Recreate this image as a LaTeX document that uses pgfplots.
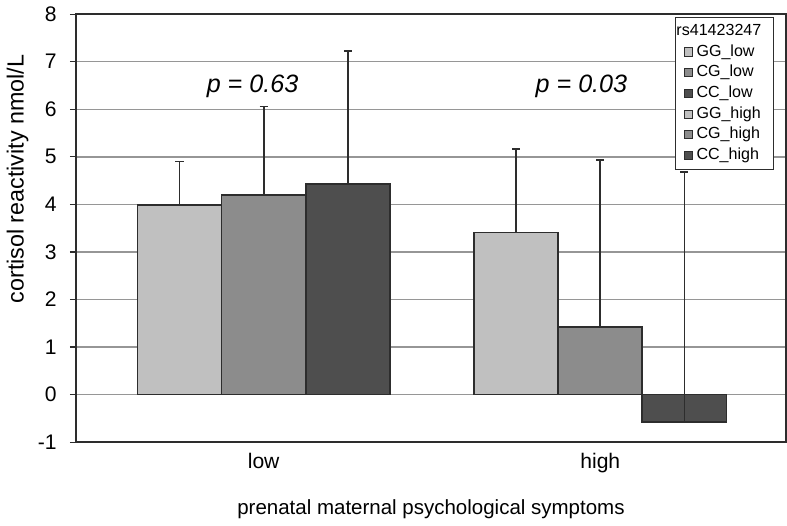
\documentclass[border=0pt]{standalone}
\usepackage{fontspec}
\setmainfont{Liberation Sans}
\usepackage{pgfplots}
\pgfplotsset{compat=1.18}

\definecolor{ggcol}{RGB}{192,192,192}
\definecolor{cgcol}{RGB}{140,140,140}
\definecolor{cccol}{RGB}{78,78,78}
\definecolor{edgecol}{RGB}{45,45,45}
\definecolor{gridcol}{RGB}{150,150,150}

\begin{document}
\begin{tikzpicture}
\begin{axis}[
  scale only axis,
  width=353.5pt, height=213pt,
  xmin=-0.558, xmax=1.552,
  ymin=-1, ymax=8,
  ytick={-1,0,...,8},
  xtick={0,1},
  xticklabels={low,high},
  ytick pos=left,
  tick align=outside,
  major tick length=3pt,
  tick style={color=edgecol, line width=0.6pt},
  xtick style={draw=none},
  ymajorgrids,
  grid style={color=gridcol, line width=0.7pt},
  axis line style={color=edgecol, line width=0.9pt},
  /pgf/number format/assume math mode=true,
  tick label style={font=\fontsize{10.5pt}{12pt}\selectfont},
  yticklabel style={xshift=-3pt},
  xticklabel style={yshift=1pt},
  ylabel={cortisol reactivity nmol/L},
  xlabel={prenatal maternal psychological symptoms},
  xlabel style={font=\fontsize{10.2pt}{12pt}\selectfont,
    at={([yshift=-33.5pt]axis description cs:0.5,0)}, anchor=center},
  ylabel style={font=\fontsize{11.6pt}{13pt}\selectfont,
    at={([xshift=-29pt]axis description cs:0,0.615)}, anchor=center},
  ybar, bar width=0.25, bar shift=0pt,
  error bars/y dir=plus,
  error bars/y explicit,
  error bars/error bar style={color=edgecol, line width=0.85pt},
  error bars/error mark options={rotate=90, mark size=2pt, line width=0.9pt, color=edgecol},
  legend style={
    at={(rel axis cs:0.983,0.993)}, anchor=north east,
    font=\fontsize{8pt}{9pt}\selectfont,
    draw=edgecol, line width=0.6pt, fill=white,
    inner xsep=4.5pt, inner ysep=1.5pt,
    nodes={inner xsep=1.75pt, inner ysep=1.75pt},
    row sep=-0.5pt,
    legend cell align=left,
  },
  legend image code/.code={
    \draw[#1, line width=0.4pt] (0pt,-2pt) rectangle (4pt,2pt);
  },
]
\addlegendimage{empty legend}
\addlegendentry{\makebox[0pt][l]{\hspace{-10pt}rs41423247}}

\addplot[fill=ggcol, draw=edgecol, line width=0.9pt]
  coordinates {(-0.25,3.98) +- (0,0.92)};
\addlegendentry{GG\_low}
\addplot[fill=cgcol, draw=edgecol, line width=0.9pt]
  coordinates {(0,4.20) +- (0,1.86)};
\addlegendentry{CG\_low}
\addplot[fill=cccol, draw=edgecol, line width=0.9pt]
  coordinates {(0.25,4.43) +- (0,2.79)};
\addlegendentry{CC\_low}
\addplot[fill=ggcol, draw=edgecol, line width=0.9pt]
  coordinates {(0.75,3.41) +- (0,1.76)};
\addlegendentry{GG\_high}
\addplot[fill=cgcol, draw=edgecol, line width=0.9pt]
  coordinates {(1,1.42) +- (0,3.52)};
\addlegendentry{CG\_high}
\addplot[fill=cccol, draw=edgecol, line width=0.9pt]
  coordinates {(1.25,-0.57) +- (0,5.25)};
\addlegendentry{CC\_high}

\node[font=\fontsize{12.5pt}{14pt}\selectfont\itshape] at (axis cs:-0.033,6.48) {p = 0.63};
\node[font=\fontsize{12.5pt}{14pt}\selectfont\itshape] at (axis cs:0.944,6.48) {p = 0.03};
\end{axis}
\end{tikzpicture}
\end{document}
